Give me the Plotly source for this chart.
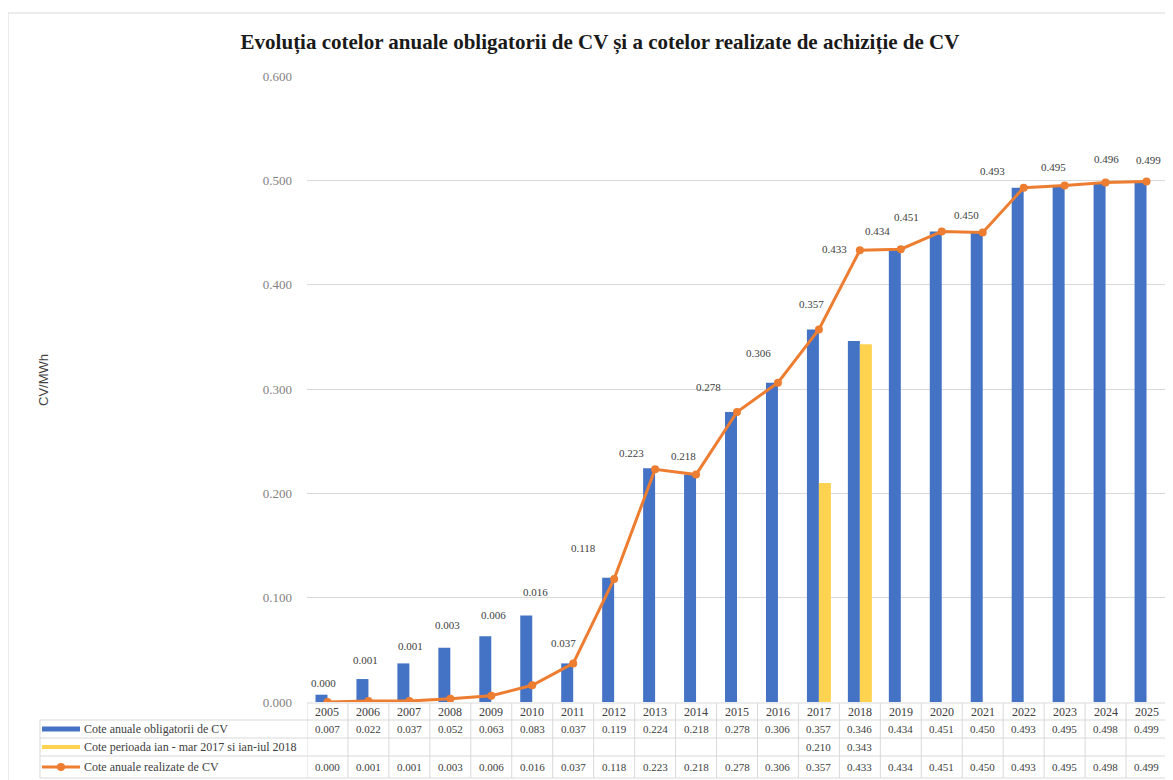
import plotly.graph_objects as go

# ---------------- data ----------------
years = [str(y) for y in range(2005, 2026)]
cote_obligatorii = [0.007, 0.022, 0.037, 0.052, 0.063, 0.083, 0.037, 0.119, 0.224, 0.218,
                    0.278, 0.306, 0.357, 0.346, 0.434, 0.451, 0.450, 0.493, 0.495, 0.498, 0.499]
cote_perioada = [None] * 12 + [0.210, 0.343] + [None] * 7
cote_realizate = [0.000, 0.001, 0.001, 0.003, 0.006, 0.016, 0.037, 0.118, 0.223, 0.218,
                  0.278, 0.306, 0.357, 0.433, 0.434, 0.451, 0.450, 0.493, 0.495, 0.498, 0.499]
# data labels as printed on the chart
label_text = ["0.000", "0.001", "0.001", "0.003", "0.006", "0.016", "0.037", "0.118", "0.223",
              "0.218", "0.278", "0.306", "0.357", "0.433", "0.434", "0.451", "0.450", "0.493",
              "0.495", "0.496", "0.499"]
series_names = ["Cote anuale obligatorii de CV",
                "Cote perioada ian - mar 2017 si ian-iul 2018",
                "Cote anuale realizate de CV"]
title_text = "Evoluția cotelor anuale obligatorii de CV și a cotelor realizate de achiziție de CV"

# pixel offsets of the data labels (layout only)
label_offsets = [(-4, -19), (-3, -41), (1, -55), (-3, -74), (2, -81), (3, -93), (-10, -20),
                 (-31, -31), (-24, -16), (-13, -19), (-29, -25), (-19, -30), (-7, -26),
                 (-25, -1), (-23, -18), (-35, -14), (-16, -18), (-31, -17), (-11, -19),
                 (1, -23), (2, -21)]

# ---------------- styling ----------------
BLUE = "#4472C4"
YELLOW = "#FFD34F"
ORANGE = "#ED7D31"
GRID = "#D9D9D9"
TXT = "#404040"
SERIF = "Liberation Serif, Times New Roman, serif"
SANS = "Liberation Sans, Arial, sans-serif"

OFF = 8                       # page body margin
W, H = 1173 - OFF, 780 - OFF
L = 307 - OFF
R = W - (1167 - OFF)
T = 76 - OFF
Y0 = 702 - OFF                # pixel y of value 0
B = H - Y0
PW = W - L - R
PH = Y0 - T


def px(xp):
    """reference page x pixel -> paper x"""
    return (xp - OFF - L) / PW


def py(yp):
    """reference page y pixel -> paper y"""
    return (Y0 - (yp - OFF)) / PH


fig = go.Figure()
fig.add_trace(go.Bar(x=years, y=cote_obligatorii, name=series_names[0],
                     marker=dict(color=BLUE, line=dict(width=0))))
fig.add_trace(go.Bar(x=years, y=cote_perioada, name=series_names[1],
                     marker=dict(color=YELLOW, line=dict(width=0))))
fig.add_trace(go.Scatter(x=years, y=cote_realizate, name=series_names[2], mode="lines+markers",
                         line=dict(color=ORANGE, width=3),
                         marker=dict(color=ORANGE, size=8)))

annotations = []
# data labels
for i, yr in enumerate(years):
    dx, dy = label_offsets[i]
    annotations.append(dict(x=i, y=cote_realizate[i], xref="x", yref="y", text=label_text[i],
                            showarrow=False, xshift=dx, yshift=-dy,
                            font=dict(family=SERIF, size=11, color=TXT)))

# table rows
row_header = (703, 720)
rows = [(720, 738), (738, 756), (756, 778)]
row_values = [cote_obligatorii, cote_perioada, cote_realizate]

for i, yr in enumerate(years):
    annotations.append(dict(x=i, y=py(sum(row_header) / 2), xref="x", yref="paper", text=yr,
                            showarrow=False, yanchor="middle",
                            font=dict(family=SERIF, size=12, color=TXT)))
    for r, vals in enumerate(row_values):
        v = vals[i]
        if v is None:
            continue
        annotations.append(dict(x=i, y=py(sum(rows[r]) / 2), xref="x", yref="paper",
                                text=f"{v:.3f}", showarrow=False, yanchor="middle",
                                font=dict(family=SERIF, size=11, color=TXT)))

# legend text in table
for r, name in enumerate(series_names):
    annotations.append(dict(x=px(82), y=py(sum(rows[r]) / 2), xref="paper", yref="paper",
                            text=name, showarrow=False, xanchor="left", yanchor="middle",
                            font=dict(family=SERIF, size=12, color=TXT)))

# y-axis title
annotations.append(dict(x=px(43), y=py(380), xref="paper", yref="paper", text="CV/MWh",
                        showarrow=False, textangle=-90, xanchor="center", yanchor="middle",
                        font=dict(family=SANS, size=13, color=TXT)))

shapes = []
# outer chart border
shapes.append(dict(type="rect", xref="paper", yref="paper", x0=px(8), x1=px(1180),
                   y0=py(790), y1=py(13), line=dict(color="#D9D9D9", width=1),
                   fillcolor="rgba(0,0,0,0)", layer="below"))
# horizontal table lines
for yy in [row_header[1], rows[0][1], rows[1][1], rows[2][1]]:
    shapes.append(dict(type="line", xref="paper", yref="paper", x0=px(40), x1=1,
                       y0=py(yy), y1=py(yy), line=dict(color=GRID, width=1)))
shapes.append(dict(type="line", xref="paper", yref="paper", x0=0, x1=1,
                   y0=py(row_header[0]), y1=py(row_header[0]), line=dict(color=GRID, width=1)))
# vertical table lines at category boundaries
for k in range(len(years) + 1):
    shapes.append(dict(type="line", xref="x", yref="paper", x0=k - 0.5, x1=k - 0.5,
                       y0=py(row_header[0]), y1=py(rows[2][1]), line=dict(color=GRID, width=1)))
# left border of legend column
shapes.append(dict(type="line", xref="paper", yref="paper", x0=px(40), x1=px(40),
                   y0=py(rows[0][0]), y1=py(rows[2][1]), line=dict(color=GRID, width=1)))
# legend keys
key_colors = [BLUE, YELLOW, ORANGE]
key_widths = [5, 4, 3]
for r in range(3):
    yc = py(sum(rows[r]) / 2)
    shapes.append(dict(type="line", xref="paper", yref="paper", x0=px(42), x1=px(80),
                       y0=yc, y1=yc, line=dict(color=key_colors[r], width=key_widths[r])))
yc = py(sum(rows[2]) / 2)
shapes.append(dict(type="circle", xref="paper", yref="paper", x0=px(57), x1=px(65),
                   y0=yc - 4 / PH, y1=yc + 4 / PH, fillcolor=ORANGE,
                   line=dict(color=ORANGE, width=0)))

fig.update_layout(
    width=W, height=H, autosize=False,
    margin=dict(l=L, r=R, t=T, b=B, pad=0),
    paper_bgcolor="white", plot_bgcolor="white",
    barmode="group", bargap=0.415, bargroupgap=0,
    showlegend=False,
    title=dict(text=title_text, x=(600 - OFF) / W, xanchor="center", xref="container",
               y=1 - (42 - OFF) / H, yanchor="middle", yref="container",
               font=dict(family=SERIF, size=21, color="#1a1a1a", weight="bold")),
    xaxis=dict(type="category", range=[-0.5, len(years) - 0.5], showticklabels=False,
               showgrid=False, zeroline=False, showline=False, ticks=""),
    yaxis=dict(range=[0, 0.6], dtick=0.1, tickformat=".3f", showgrid=True, gridcolor=GRID,
               gridwidth=1, zeroline=False, showline=False, ticks="",
               ticklabelstandoff=14,
               tickfont=dict(family=SERIF, size=13, color="#7F7F7F")),
    annotations=annotations,
    shapes=shapes,
)

fig.write_html("out.html")
